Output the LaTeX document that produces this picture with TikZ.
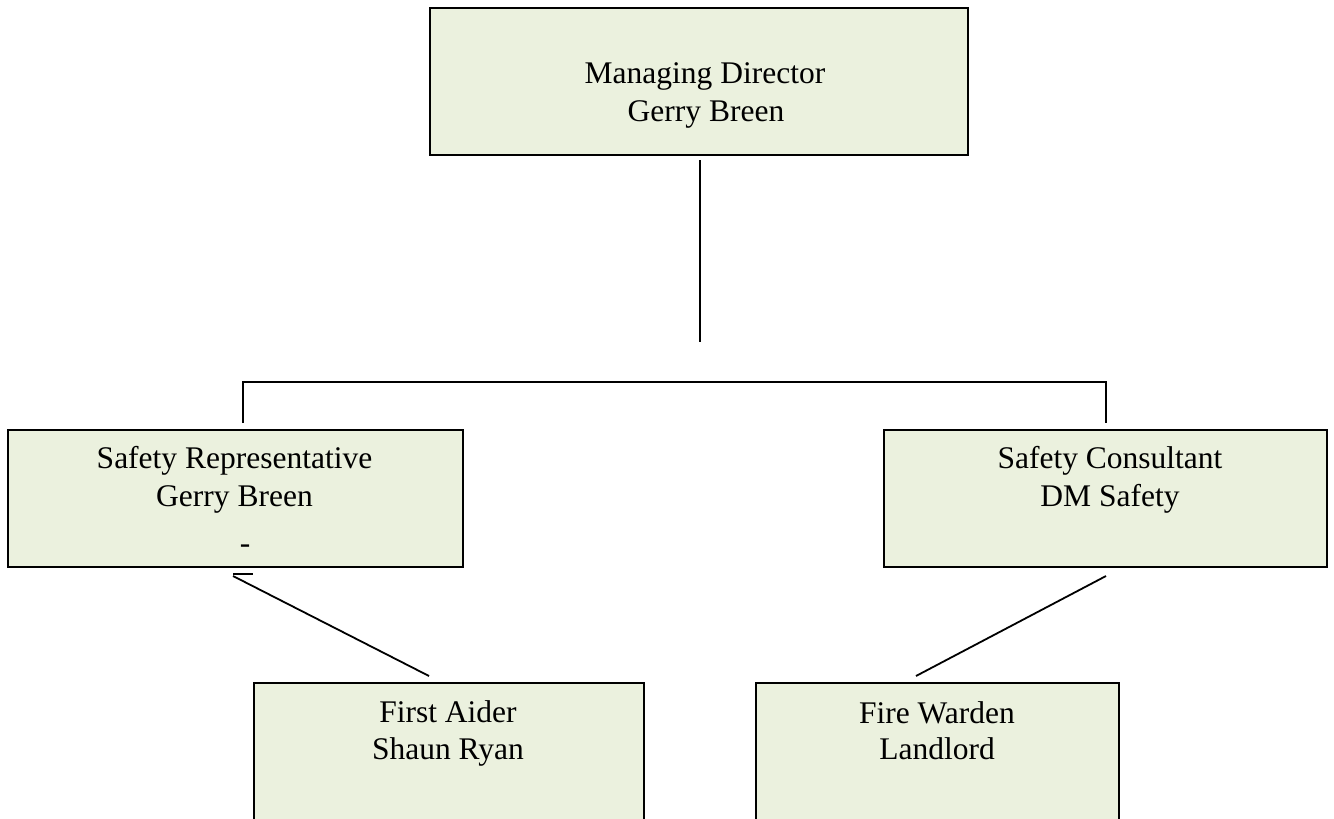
\documentclass[tikz,border=0pt]{standalone}
\usepackage{fontspec}
\setmainfont{Liberation Serif}
\definecolor{boxfill}{HTML}{EBF1DE}
\newcommand{\boxfont}{\fontsize{31.5}{37.5}\selectfont}
\tikzset{
  orgbox/.style={draw=black, line width=2.2pt, fill=boxfill, rectangle, anchor=north west, inner sep=0pt},
  txt/.style={font=\boxfont, anchor=base, inner sep=0pt},
  conn/.style={line width=1.8pt, draw=black}
}
\begin{document}
\begin{tikzpicture}[x=1pt,y=-1pt]
\clip (0,0) rectangle (1334,819);
\fill[white] (0,0) rectangle (1334,819);
% boxes
\node[orgbox, minimum width=538pt, minimum height=147pt] (md) at (429,7) {};
\node[orgbox, minimum width=455pt, minimum height=137pt] (sr) at (7,429) {};
\node[orgbox, minimum width=443pt, minimum height=137pt] (sc) at (883,429) {};
\node[orgbox, minimum width=390pt, minimum height=160pt] (fa) at (253,682) {};
\node[orgbox, minimum width=363pt, minimum height=160pt] (fw) at (755,682) {};
% texts
\node[txt] (mdA) at (705,83) {Managing Director};
\node[txt] (mdB) at (706,121) {Gerry Breen};
\node[txt] (srA) at (234.5,468) {Safety Representative};
\node[txt] (srB) at (234.5,506) {Gerry Breen};
\node[txt] (srC) at (245,553) {-};
\node[txt] (scA) at (1110,468) {Safety Consultant};
\node[txt] (scB) at (1110,506) {DM Safety};
\node[txt] (faA) at (448,722) {First Aider};
\node[txt] (faB) at (448,759) {Shaun Ryan};
\node[txt] (fwA) at (937,723) {Fire Warden};
\node[txt] (fwB) at (937,759) {Landlord};
% connector points
\coordinate (mdOut) at (700,160);
\coordinate (mdEnd) at (700,342);
\coordinate (hL) at (243,382);
\coordinate (hR) at (1106,382);
\coordinate (srIn) at (243,423);
\coordinate (scIn) at (1106,423);
\coordinate (srOut) at (233,576);
\coordinate (tickL) at (233,574);
\coordinate (tickR) at (253,574);
\coordinate (faIn) at (429,676);
\coordinate (scOut) at (1106,576);
\coordinate (fwIn) at (916,676);
% connectors
\draw[conn] (mdOut) -- (mdEnd);
\draw[conn] (srIn) -- (hL) -- (hR) -- (scIn);
\draw[conn] (srOut) -- (faIn);
\draw[conn] (tickL) -- (tickR);
\draw[conn] (scOut) -- (fwIn);
\end{tikzpicture}
\end{document}
